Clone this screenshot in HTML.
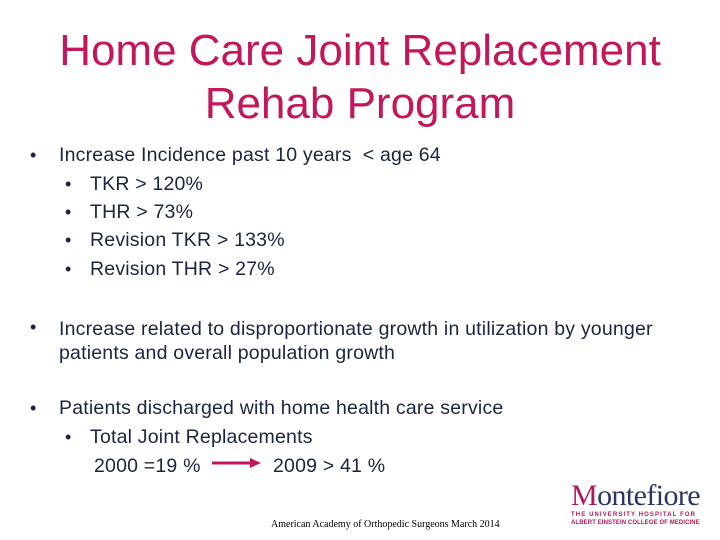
<!DOCTYPE html>
<html><head><meta charset="utf-8"><style>
body{margin:0;width:720px;height:540px;background:#fff;position:relative;overflow:hidden;font-family:"Liberation Sans",sans-serif;color:#1b2540}
.t{position:absolute;left:0;width:720px;text-align:center;color:#c2185b;font-size:44px;line-height:53px}
.l{position:absolute;font-size:19.5px;white-space:nowrap;line-height:20px;letter-spacing:0.2px}
.b{position:absolute;font-size:18px;line-height:20px}
</style></head><body>
<div class="t" style="top:24px">Home Care Joint Replacement<br>Rehab Program</div>
<div class="b" style="left:30px;top:145px">•</div>
<div class="l" style="left:59px;top:145px">Increase Incidence past 10 years &nbsp;&lt; age 64</div>
<div class="b" style="left:65px;top:174px">•</div>
<div class="l" style="left:90px;top:174px">TKR &gt; 120%</div>
<div class="b" style="left:65px;top:202px">•</div>
<div class="l" style="left:90px;top:202px">THR &gt; 73%</div>
<div class="b" style="left:65px;top:230px">•</div>
<div class="l" style="left:90px;top:230px">Revision TKR &gt; 133%</div>
<div class="b" style="left:65px;top:259px">•</div>
<div class="l" style="left:90px;top:259px">Revision THR &gt; 27%</div>
<div class="b" style="left:30px;top:317px">•</div>
<div class="l" style="left:59px;top:317px;line-height:24px">Increase related to disproportionate growth in utilization by younger<br>patients and overall population growth</div>
<div class="b" style="left:30px;top:398px">•</div>
<div class="l" style="left:59px;top:398px">Patients discharged with home health care service</div>
<div class="b" style="left:65px;top:427px">•</div>
<div class="l" style="left:90px;top:427px">Total Joint Replacements</div>
<div class="l" style="left:94px;top:456px">2000 =19 %</div>
<svg style="position:absolute;left:210px;top:455px" width="52" height="16"><line x1="2" y1="8" x2="42" y2="8" stroke="#c2185b" stroke-width="3"/><polygon points="40,3 51,8 40,13" fill="#c2185b"/></svg>
<div class="l" style="left:273px;top:456px">2009 &gt; 41 %</div>
<div style="position:absolute;left:271px;top:519px;font-family:'Liberation Serif',serif;font-size:10px;color:#000">American Academy of Orthopedic Surgeons March 2014</div>
<div style="position:absolute;left:571px;top:480px;width:136px;font-family:'Liberation Serif',serif">
<div style="font-size:30px;line-height:31px;color:#2b3566;letter-spacing:-0.6px"><span style="color:#b0175e">M</span>ontefiore</div>
<div style="font-family:'Liberation Sans',sans-serif;font-size:6px;color:#b0175e;line-height:8px;letter-spacing:1.1px;font-weight:bold">THE UNIVERSITY HOSPITAL FOR<br><span style="letter-spacing:0.1px">ALBERT EINSTEIN COLLEGE OF MEDICINE</span></div>
</div>
</body></html>
